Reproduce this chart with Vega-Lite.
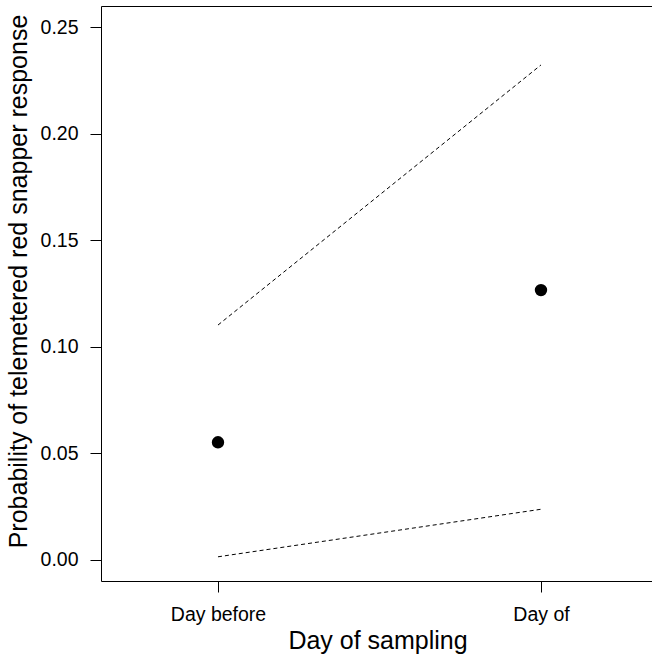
{
  "$schema": "https://vega.github.io/schema/vega-lite/v6.json",
  "width": 553,
  "height": 575,
  "autosize": {"type": "none"},
  "padding": {"left": 101, "top": 6, "right": 0, "bottom": 75},
  "background": "white",
  "config": {
    "view": {"stroke": "#000", "strokeWidth": 1},
    "font": "Liberation Sans",
    "axis": {
      "grid": false,
      "domain": false,
      "tickColor": "#000",
      "tickSize": 11,
      "tickWidth": 1,
      "labelColor": "#000",
      "labelFont": "Liberation Sans",
      "labelFontSize": 19.5,
      "titleFont": "Liberation Sans",
      "titleFontSize": 25,
      "titleFontWeight": "normal",
      "titleColor": "#000"
    }
  },
  "datasets": {
    "pts": [
      {"day": 1, "prob": 0.0552},
      {"day": 2, "prob": 0.1266}
    ],
    "ci": [
      {"day": 1, "prob": 0.1102, "bound": "upper"},
      {"day": 2, "prob": 0.2322, "bound": "upper"},
      {"day": 1, "prob": 0.0015, "bound": "lower"},
      {"day": 2, "prob": 0.0238, "bound": "lower"}
    ]
  },
  "layer": [
    {
      "data": {"name": "ci"},
      "mark": {"type": "line", "color": "#000", "strokeWidth": 1, "strokeDash": [4, 3]},
      "encoding": {
        "x": {
          "field": "day", "type": "quantitative",
          "scale": {"domain": [0.6378, 2.3499], "nice": false, "zero": false},
          "axis": {
            "values": [1, 2],
            "labelExpr": "datum.value == 1 ? 'Day before' : 'Day of'",
            "labelPadding": 13,
            "title": "Day of sampling",
            "titlePadding": 5
          }
        },
        "y": {
          "field": "prob", "type": "quantitative",
          "scale": {"domain": [-0.00985, 0.25985], "nice": false, "zero": false},
          "axis": {
            "values": [0, 0.05, 0.1, 0.15, 0.2, 0.25],
            "format": ".2f",
            "labelPadding": 12,
            "title": "Probability of telemetered red snapper response",
            "titlePadding": 9,
            "titleY": 275
          }
        },
        "detail": {"field": "bound"}
      }
    },
    {
      "data": {"name": "pts"},
      "mark": {"type": "circle", "color": "#000", "opacity": 1, "size": 154},
      "encoding": {
        "x": {"field": "day", "type": "quantitative"},
        "y": {"field": "prob", "type": "quantitative"}
      }
    }
  ]
}
